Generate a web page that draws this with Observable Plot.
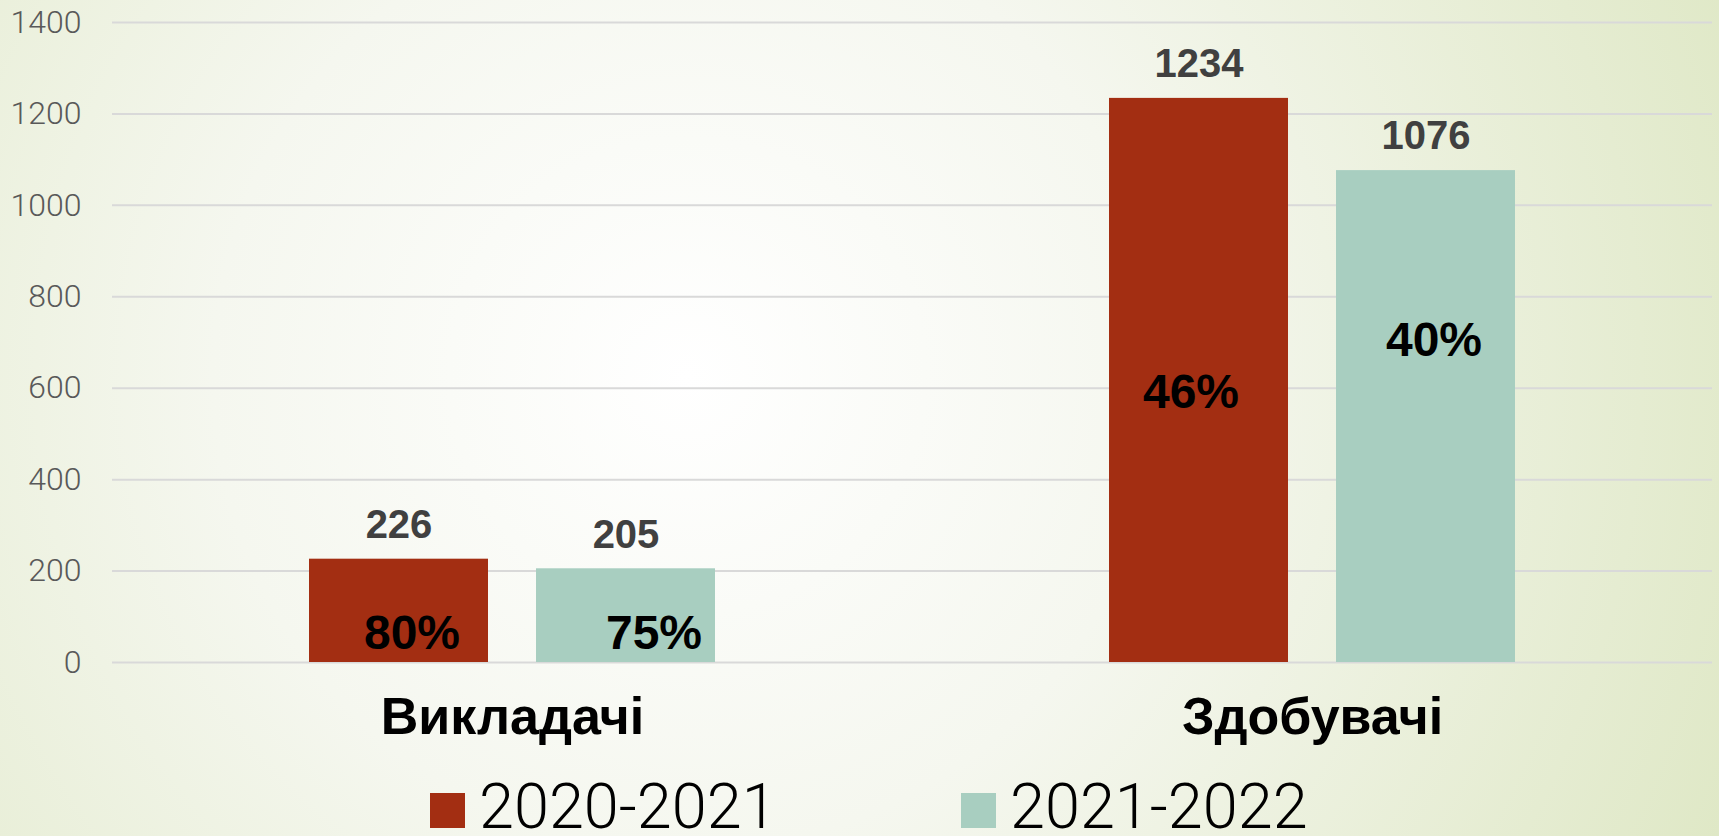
<!DOCTYPE html>
<html>
<head>
<meta charset="utf-8">
<script src="https://cdn.jsdelivr.net/npm/d3@7"></script>
<script src="https://cdn.jsdelivr.net/npm/@observablehq/plot@0.6"></script>
<style>
  html, body { margin: 0; padding: 0; }
  body {
    width: 1719px; height: 836px; overflow: hidden;
    background: radial-gradient(circle farthest-corner at 40% 45%, #ffffff 0%, #f5f7ef 42%, #dfe8c6 100%);
    font-family: "Liberation Sans", Arial, sans-serif;
  }
  #chart { position: relative; width: 1719px; height: 790px; }
  #legend { position: relative; width: 1719px; height: 50px; margin-top: -8px; }
  .item { position: absolute; top: 0; display: flex; align-items: flex-start; }
  .sw { width: 35px; height: 35px; margin-top: 11px; margin-right: 14px; }
  .lab { font-family: Roboto, "Liberation Sans", sans-serif; font-weight: 300; font-size: 63px; line-height: 50px; height: 50px; color: #000; white-space: nowrap; }
</style>
</head>
<body>
<div id="chart"></div>
<div id="legend"></div>
<script>
const categories = ["Викладачі", "Здобувачі"];
const years = ["2020-2021", "2021-2022"];
const values2020 = [226, 1234];
const values2021 = [205, 1076];
const shares2020 = ["80%", "46%"];
const shares2021 = ["75%", "40%"];
const yTicks = [0, 200, 400, 600, 800, 1000, 1200, 1400];
const colors = ["#A32E12", "#A8CEC0"];

const data = [];
categories.forEach((c, i) => {
  data.push({category: c, year: years[0], value: values2020[i], share: shares2020[i]});
  data.push({category: c, year: years[1], value: values2021[i], share: shares2021[i]});
});

// label nudges (pixels) for the percentage labels, in data order
const pctNudge = [[13, 23], [28, 18], [-8, 12], [8, -76]];

const pctMarks = data.map((d, i) => Plot.text([d], {
  fx: "category", x: "year", y: (r) => r.value / 2, text: "share",
  dx: pctNudge[i][0], dy: pctNudge[i][1],
  fontSize: 48, fontWeight: "bold", fill: "#000"
}));

const chart = Plot.plot({
  width: 1719,
  height: 790,
  marginLeft: 112,
  marginRight: 7,
  marginTop: 22,
  marginBottom: 128,
  style: {background: "transparent", fontFamily: "'Liberation Sans', Arial, sans-serif"},
  fx: {domain: categories, padding: 0, axis: null, label: null},
  x: {domain: years, paddingInner: 0.21, paddingOuter: 0.86, axis: null},
  y: {domain: [0, 1400], axis: null},
  color: {domain: years, range: colors},
  marks: [
    Plot.ruleY(yTicks, {stroke: "#D9D9D9", strokeWidth: 2}),
    Plot.axisY({ticks: yTicks, tickSize: 0, tickPadding: 31, fontSize: 32, fontFamily: "Roboto, 'Liberation Sans', sans-serif", fontWeight: 300, fill: "#595959", label: null, tickFormat: d => String(d)}),
    Plot.barY(data, {fx: "category", x: "year", y: "value", fill: "year"}),
    Plot.text(data, {fx: "category", x: "year", y: "value", text: d => String(d.value), dy: -34, fontSize: 40, fontWeight: "bold", fill: "#404040"}),
    ...pctMarks,
    Plot.text(categories, {fx: d => d, text: d => d, frameAnchor: "bottom", dy: 71, fontSize: 52, fontWeight: "bold", fill: "#000"})
  ]
});
document.getElementById("chart").appendChild(chart);

const legend = document.getElementById("legend");
const legendLeft = [430, 961];
years.forEach((y, i) => {
  const it = document.createElement("div");
  it.className = "item";
  it.style.left = legendLeft[i] + "px";
  const sw = document.createElement("div");
  sw.className = "sw";
  sw.style.background = colors[i];
  const lab = document.createElement("div");
  lab.className = "lab";
  lab.textContent = y;
  it.appendChild(sw);
  it.appendChild(lab);
  legend.appendChild(it);
});
</script>
</body>
</html>
